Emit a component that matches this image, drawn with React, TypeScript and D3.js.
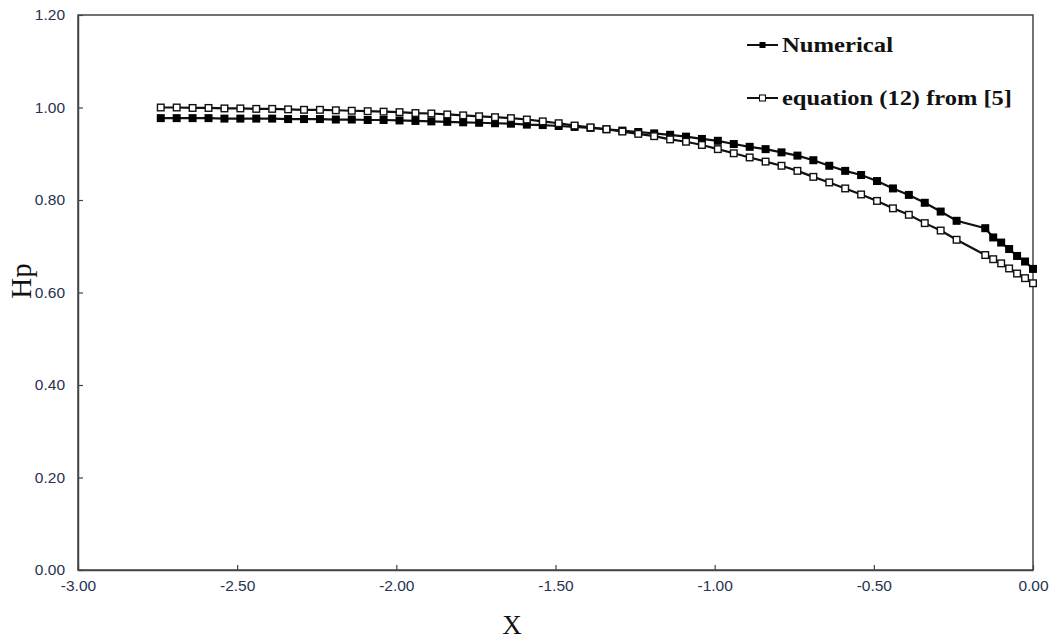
import React, { useEffect, useRef } from 'react'
import * as d3 from 'd3'

// x positions of the computed points
const xValues = [
  -2.74, -2.69, -2.64, -2.59, -2.54, -2.49, -2.44, -2.39, -2.34, -2.29,
  -2.24, -2.19, -2.14, -2.09, -2.04, -1.99, -1.94, -1.89, -1.84, -1.79,
  -1.74, -1.69, -1.64, -1.59, -1.54, -1.49, -1.44, -1.39, -1.34, -1.29,
  -1.24, -1.19, -1.14, -1.09, -1.04, -0.99, -0.94, -0.89, -0.84, -0.79,
  -0.74, -0.69, -0.64, -0.59, -0.54, -0.49, -0.44, -0.39, -0.34, -0.29,
  -0.24, -0.15, -0.125, -0.1, -0.075, -0.05, -0.025, 0
]

const numerical = [
  0.977, 0.977, 0.977, 0.977, 0.976, 0.976, 0.976, 0.976, 0.975, 0.975,
  0.975, 0.974, 0.974, 0.973, 0.973, 0.972, 0.971, 0.970, 0.969, 0.968,
  0.967, 0.966, 0.965, 0.963, 0.962, 0.960, 0.958, 0.956, 0.953, 0.950,
  0.947, 0.944, 0.941, 0.937, 0.932, 0.928, 0.921, 0.915, 0.910, 0.903,
  0.896, 0.886, 0.874, 0.863, 0.854, 0.841, 0.825, 0.811, 0.794, 0.775,
  0.755, 0.739, 0.719, 0.708, 0.694, 0.679, 0.667, 0.651
]

const equation = [
  1.000, 1.000, 0.999, 0.999, 0.998, 0.998, 0.997, 0.997, 0.996, 0.995,
  0.995, 0.994, 0.993, 0.992, 0.991, 0.990, 0.988, 0.987, 0.985, 0.983,
  0.981, 0.979, 0.977, 0.974, 0.970, 0.966, 0.961, 0.957, 0.953, 0.948,
  0.943, 0.938, 0.931, 0.926, 0.919, 0.910, 0.901, 0.892, 0.883, 0.874,
  0.863, 0.850, 0.838, 0.825, 0.812, 0.798, 0.782, 0.768, 0.750, 0.734,
  0.714, 0.681, 0.672, 0.663, 0.652, 0.641, 0.631, 0.620
]

const xTicks = [-3, -2.5, -2, -1.5, -1, -0.5, 0]
const yTicks = [0, 0.2, 0.4, 0.6, 0.8, 1.0, 1.2]
const seriesNames = ['Numerical', 'equation (12) from [5]']

export default function App() {
  const ref = useRef<SVGSVGElement>(null)

  useEffect(() => {
    const svg = d3.select(ref.current)
    svg.selectAll('*').remove()

    const left = 78, top = 15, right = 1033, bottom = 570
    const labelColor = '#27324f'
    const frameColor = '#444'

    const x = d3.scaleLinear().domain([-3, 0]).range([left, right])
    const y = d3.scaleLinear().domain([0, 1.2]).range([bottom, top])

    // frame
    svg.append('rect')
      .attr('x', left).attr('y', top)
      .attr('width', right - left).attr('height', bottom - top)
      .attr('fill', 'none').attr('stroke', frameColor).attr('stroke-width', 1.5)

    const xAxis = d3.axisBottom(x)
      .tickValues(xTicks)
      .tickFormat(d => (+d).toFixed(2))
      .tickSizeInner(-5).tickSizeOuter(0).tickPadding(10)
    const yAxis = d3.axisLeft(y)
      .tickValues(yTicks)
      .tickFormat(d => (+d).toFixed(2))
      .tickSizeInner(-5).tickSizeOuter(0).tickPadding(13)

    const gx = svg.append('g').attr('transform', `translate(0, ${bottom})`).call(xAxis)
    const gy = svg.append('g').attr('transform', `translate(${left}, 0)`).call(yAxis)
    for (const g of [gx, gy]) {
      g.select('.domain').attr('stroke', frameColor).attr('stroke-width', 1.5)
      g.selectAll('.tick line').attr('stroke', frameColor).attr('stroke-width', 1.2)
      g.selectAll('.tick text')
        .attr('fill', labelColor)
        .style('font-family', '"Liberation Sans", Arial, sans-serif')
        .style('font-size', '15.5px')
    }

    // axis titles
    svg.append('text')
      .attr('x', 512).attr('y', 634)
      .attr('text-anchor', 'middle')
      .style('font-family', '"Liberation Serif", serif')
      .style('font-size', '27px')
      .attr('fill', '#111')
      .text('X')
    svg.append('text')
      .attr('transform', 'translate(31, 281) rotate(-90)')
      .attr('text-anchor', 'middle')
      .style('font-family', '"Liberation Serif", serif')
      .style('font-size', '29px')
      .attr('fill', '#111')
      .text('Hp')

    const line = d3.line<number>()
      .x((d, i) => x(xValues[i]))
      .y(d => y(d))

    const ms = 8
    // numerical series
    svg.append('path').datum(numerical)
      .attr('d', line).attr('fill', 'none')
      .attr('stroke', '#111').attr('stroke-width', 2.2)
    svg.append('g').selectAll('rect').data(numerical).enter()
      .append('rect')
      .attr('x', (d, i) => x(xValues[i]) - ms / 2)
      .attr('y', d => y(d) - ms / 2)
      .attr('width', ms).attr('height', ms)
      .attr('fill', '#000')

    // equation series
    svg.append('path').datum(equation)
      .attr('d', line).attr('fill', 'none')
      .attr('stroke', '#111').attr('stroke-width', 2.2)
    svg.append('g').selectAll('rect').data(equation).enter()
      .append('rect')
      .attr('x', (d, i) => x(xValues[i]) - ms / 2 + 0.7)
      .attr('y', d => y(d) - ms / 2 + 0.7)
      .attr('width', ms - 1.4).attr('height', ms - 1.4)
      .attr('fill', '#fff').attr('stroke', '#111').attr('stroke-width', 1.4)

    // legend
    const legendRows = [
      { name: seriesNames[0], y: 45, filled: true, width: 111 },
      { name: seriesNames[1], y: 98, filled: false, width: 230 }
    ]
    legendRows.forEach(row => {
      svg.append('line')
        .attr('x1', 747).attr('x2', 778)
        .attr('y1', row.y).attr('y2', row.y)
        .attr('stroke', '#111').attr('stroke-width', 2)
      svg.append('rect')
        .attr('x', 762.5 - 3).attr('y', row.y - 3)
        .attr('width', 6).attr('height', 6)
        .attr('fill', row.filled ? '#000' : '#fff')
        .attr('stroke', '#111').attr('stroke-width', row.filled ? 0 : 1.1)
      svg.append('text')
        .attr('x', 782).attr('y', row.y + 7)
        .attr('textLength', row.width)
        .attr('lengthAdjust', 'spacingAndGlyphs')
        .style('font-family', '"Liberation Serif", serif')
        .style('font-weight', 'bold')
        .style('font-size', '22px')
        .attr('fill', '#111')
        .text(row.name)
    })
  }, [])

  return (
    <svg ref={ref} width={1052} height={639}
      style={{ position: 'absolute', left: 0, top: 0, background: '#fff' }} />
  )
}
